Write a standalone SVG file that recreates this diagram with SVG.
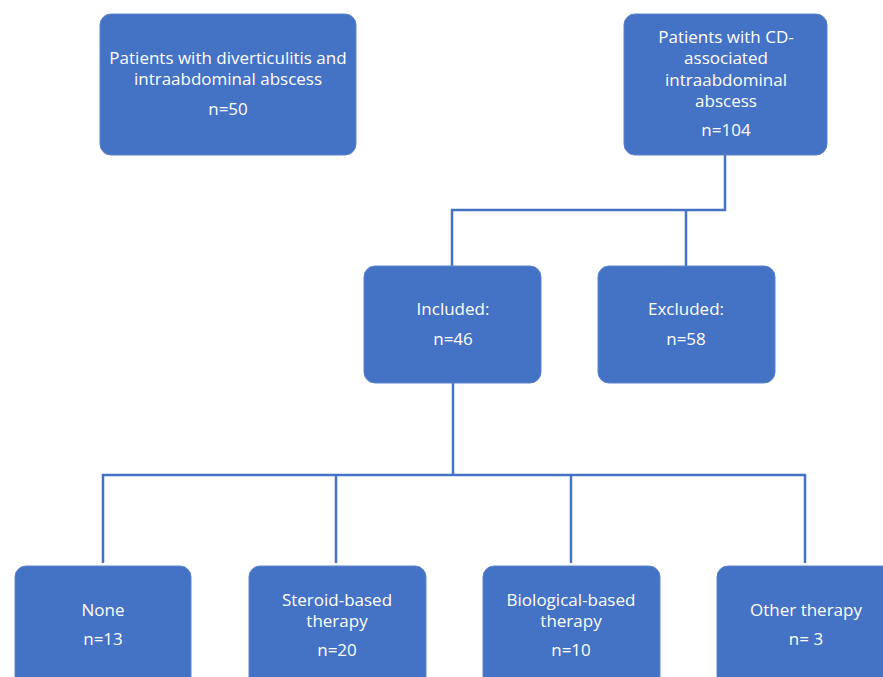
<svg xmlns="http://www.w3.org/2000/svg" width="883" height="677" viewBox="0 0 883 677">
<style>
.box{fill:#4472C4;stroke:#5b84cc;stroke-width:1}
.t{font-family:"Open Sans","Liberation Sans",sans-serif;font-size:17px;fill:#ffffff;text-anchor:middle}
.c{fill:none;stroke:#4472C4;stroke-width:2.5}
</style>
<rect width="883" height="677" fill="#ffffff"/>
<g id="connectors">
<path class="c" d="M725,155 V210 H452 V266"/>
<path class="c" d="M686,210 V266"/>
<path class="c" d="M453,383 V475"/>
<path class="c" d="M103,563 V475 H805 V563"/>
<path class="c" d="M336,475 V563"/>
<path class="c" d="M571,475 V563"/>
</g>
<g id="n1">
<rect class="box" x="100" y="14" width="256" height="141" rx="11"/>
<text class="t" x="228" y="64">Patients with diverticulitis and</text>
<text class="t" x="228" y="85">intraabdominal abscess</text>
<text class="t" x="228" y="115">n=50</text>
</g>
<g id="n2">
<rect class="box" x="624" y="14" width="203" height="141" rx="11"/>
<text class="t" x="726" y="43">Patients with CD-</text>
<text class="t" x="726" y="64">associated</text>
<text class="t" x="726" y="86">intraabdominal</text>
<text class="t" x="726" y="107">abscess</text>
<text class="t" x="726" y="136">n=104</text>
</g>
<g id="n3">
<rect class="box" x="364" y="266" width="177" height="117" rx="11"/>
<text class="t" x="453" y="315">Included:</text>
<text class="t" x="453" y="345">n=46</text>
</g>
<g id="n4">
<rect class="box" x="598" y="266" width="177" height="117" rx="11"/>
<text class="t" x="686" y="315">Excluded:</text>
<text class="t" x="686" y="345">n=58</text>
</g>
<g id="n5">
<rect class="box" x="15" y="566" width="176" height="125" rx="11"/>
<text class="t" x="103" y="616">None</text>
<text class="t" x="103" y="645">n=13</text>
</g>
<g id="n6">
<rect class="box" x="249" y="566" width="177" height="125" rx="11"/>
<text class="t" x="337" y="606">Steroid-based</text>
<text class="t" x="337" y="627">therapy</text>
<text class="t" x="337" y="656">n=20</text>
</g>
<g id="n7">
<rect class="box" x="483" y="566" width="177" height="125" rx="11"/>
<text class="t" x="571" y="606">Biological-based</text>
<text class="t" x="571" y="627">therapy</text>
<text class="t" x="571" y="656">n=10</text>
</g>
<g id="n8">
<rect class="box" x="717" y="566" width="177" height="125" rx="11"/>
<text class="t" x="806" y="616">Other therapy</text>
<text class="t" x="806" y="645">n= 3</text>
</g>
</svg>
